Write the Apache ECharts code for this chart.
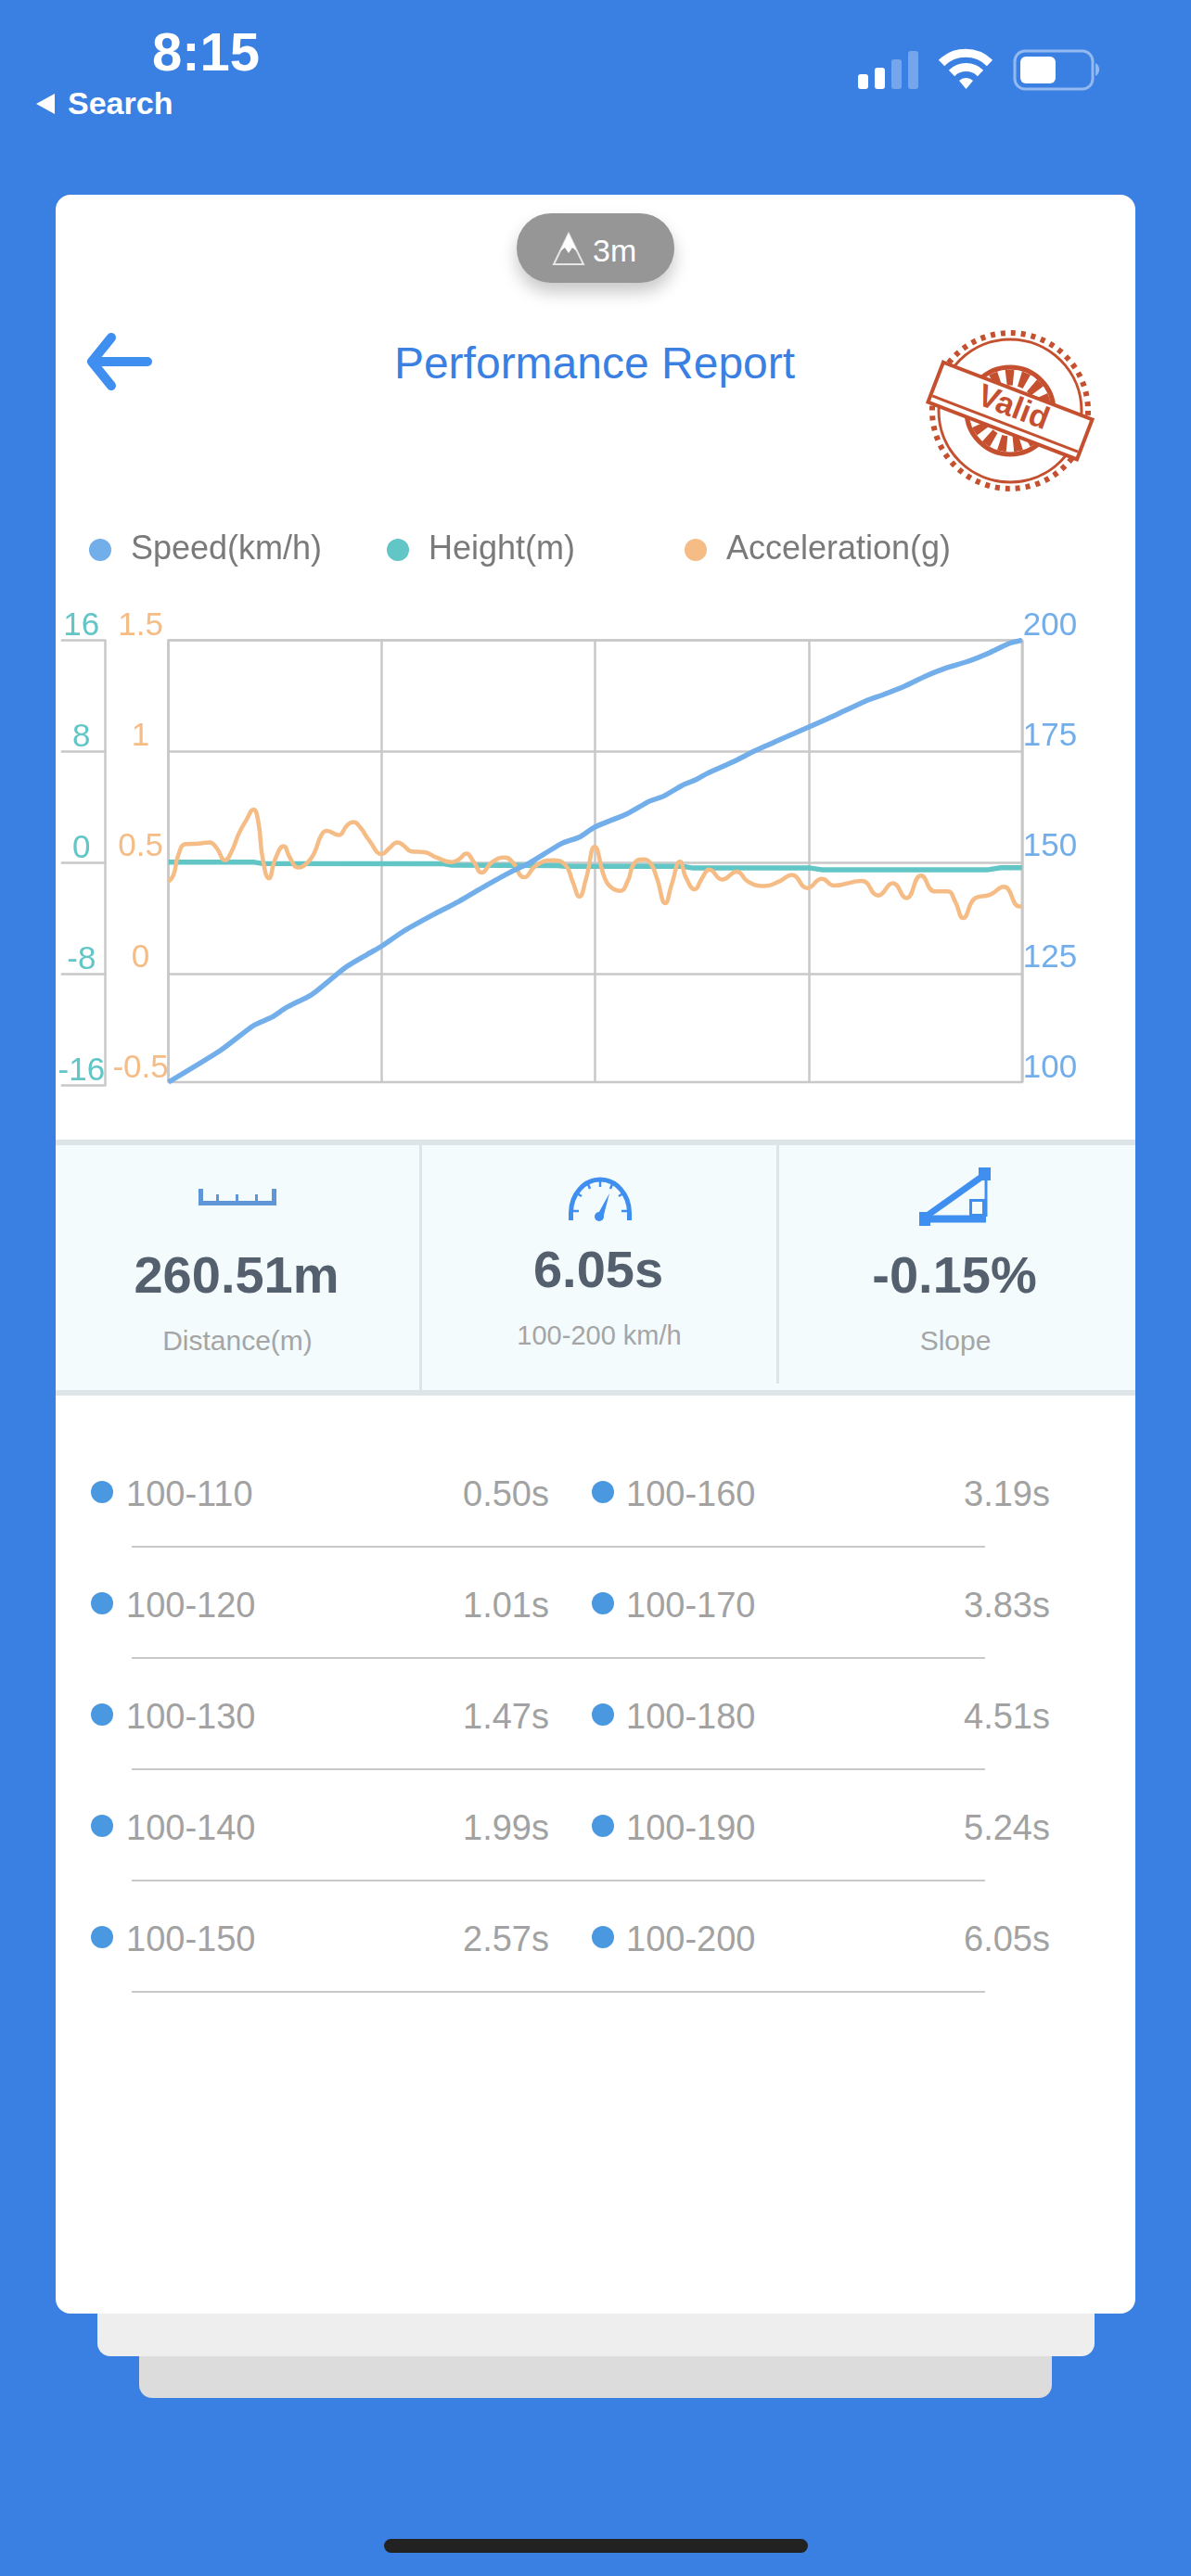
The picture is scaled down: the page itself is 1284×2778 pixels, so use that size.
<!DOCTYPE html>
<html lang="en">
<head>
<meta charset="UTF-8">
<title>Performance Report</title>
<style>
    html, body { margin: 0; padding: 0; }
    body {
        position: relative;
        width: 1284px;
        height: 2778px;
        overflow: hidden;
        background: #3a80e3;
        font-family: "Liberation Sans", sans-serif;
    }
    .abs { position: absolute; }
    .txt { position: absolute; white-space: nowrap; line-height: 1; }
    .center { transform: translateX(-50%); }
    #sheet3 { left: 150px; width: 984px; top: 2400px; height: 186px; background: #dcdcdc; border-radius: 14px; }
    #sheet2 { left: 105px; width: 1075px; top: 2400px; height: 141px; background: #eeeeee; border-radius: 14px; }
    #card { left: 60px; width: 1164px; top: 210px; height: 2285px; background: #fff; border-radius: 16px; }
    #pill { left: 557px; top: 230px; width: 170px; height: 75px; background: #969696; border-radius: 37px; box-shadow: 0 10px 18px rgba(0,0,0,0.22); }
    #stats { left: 60px; width: 1164px; top: 1229px; height: 276px; box-sizing: border-box; background: #f3fbfd; border-top: 6px solid #dde5e8; border-bottom: 6px solid #dde5e8; }
    .divider { top: 1235px; width: 3px; height: 264px; background: #dde5e8; }
    .big { font-size: 56px; font-weight: bold; color: #54606e; }
    .small { font-size: 30px; color: #a5a5a5; }
    .cell { font-size: 38px; color: #a2a2a2; }
    .dot { width: 24px; height: 24px; border-radius: 50%; background: #4a98e0; }
    .rule { left: 142px; width: 920px; height: 2px; background: #c9c9c9; }
    #chart { left: 0; top: 0; width: 1284px; height: 1228px; }
    #home { left: 414px; top: 2738px; width: 457px; height: 15px; background: #222; border-radius: 8px; }
</style>
</head>
<body>
<div class="abs" id="sheet3"></div>
<div class="abs" id="sheet2"></div>
<div class="abs" id="card"></div>

<!-- status bar -->
<div class="txt" style="left:164px;top:27px;font-size:58px;font-weight:bold;color:#fff;">8:15</div>
<div class="txt" style="left:73px;top:94px;font-size:34px;font-weight:bold;color:#fff;">Search</div>
<svg class="abs" style="left:0;top:0;" width="1284" height="130">
    <polygon points="39,112 59,101 59,123" fill="#fff"/>
    <rect x="925" y="80" width="11" height="16" rx="3" fill="#fff"/>
    <rect x="943" y="73" width="11" height="23" rx="3" fill="#fff"/>
    <rect x="961" y="64" width="11" height="32" rx="3" fill="#fff" opacity="0.3"/>
    <rect x="979" y="55" width="11" height="41" rx="3" fill="#fff" opacity="0.3"/>
    <path d="M1015,68 A37,37 0 0 1 1067,68" fill="none" stroke="#fff" stroke-width="9"/>
    <path d="M1026,79 A22,22 0 0 1 1057,79" fill="none" stroke="#fff" stroke-width="9"/>
    <path d="M1041.5,96 L1034,87 A11,11 0 0 1 1049,87 Z" fill="#fff"/>
    <rect x="1094" y="55" width="84" height="41" rx="11" fill="none" stroke="#fff" stroke-opacity="0.45" stroke-width="3"/>
    <rect x="1100" y="61" width="38" height="29" rx="6" fill="#fff"/>
    <path d="M1181,68 A8,8 0 0 1 1181,82 Z" fill="#fff" opacity="0.45"/>
</svg>

<!-- header -->
<div class="abs" id="pill"></div>
<svg class="abs" style="left:590px;top:248px;" width="46" height="42">
    <polygon points="7,37 23,4 39,37" fill="#969696" stroke="#e6e6e6" stroke-width="2"/>
    <polygon points="14,23 23,4 32,23 27,19 23,25 19,19" fill="#fff"/>
</svg>
<div class="txt" style="left:639px;top:253px;font-size:34px;color:#fff;">3m</div>
<svg class="abs" style="left:88px;top:354px;" width="84" height="72">
    <path d="M32,10 L11,36 L32,62 M12,36 L71,36" fill="none" stroke="#3f8ff0" stroke-width="10" stroke-linecap="round" stroke-linejoin="round"/>
</svg>
<div class="txt center" style="left:641px;top:368px;font-size:48px;color:#3a80e3;">Performance Report</div>
<svg class="abs" style="left:995px;top:350px;" width="190" height="190">
    <g transform="translate(94,93)" fill="none" stroke="#c5502f">
        <circle r="84" stroke-width="6" stroke-dasharray="5 6"/>
        <circle r="77" stroke-width="3"/>
        <circle r="47" stroke-width="5"/>
        <circle r="36" stroke-width="17" stroke-dasharray="8 7"/>
        <g transform="rotate(21)">
            <rect x="-86" y="-23" width="172" height="46" fill="#fff" stroke-width="4"/>
            <line x1="-84" y1="15" x2="84" y2="15" stroke-width="3"/>
            <text x="2" y="6" text-anchor="middle" font-size="34" fill="#c5502f" stroke="none" font-weight="bold" font-family="Liberation Sans">Valid</text>
        </g>
    </g>
</svg>

<!-- stats strip -->
<div class="abs" id="stats"></div>
<div class="abs divider" style="left:452px;"></div>
<div class="abs divider" style="left:837px;height:257px;"></div>
<svg class="abs" style="left:0;top:1250px;" width="1284" height="80">
    <g fill="#5f96d8">
        <rect x="214" y="45" width="84" height="5"/>
        <rect x="214" y="32" width="5" height="18"/>
        <rect x="293" y="32" width="5" height="18"/>
        <rect x="233" y="38" width="3" height="10"/>
        <rect x="254" y="38" width="3" height="10"/>
        <rect x="275" y="38" width="3" height="10"/>
    </g>
    <g fill="none" stroke="#3f8ff0">
        <path d="M615.5,66 L615.5,58 A31.5,36 0 0 1 678.5,58 L678.5,66" stroke-width="5"/>
        <path d="M618,56 h6 M670,56 h6 M622,37 l5,3 M672,37 l-5,3 M634,27 l2,5 M660,27 l-2,5 M647,24 v6" stroke-width="2.5"/>
        <path d="M998,62 L1064,15" stroke-width="7"/>
        <path d="M995,64.5 L1063,64.5" stroke-width="8"/>
        <path d="M1063,14 L1063,62" stroke-width="3"/>
        <rect x="1046.5" y="44.5" width="14" height="16" stroke-width="3"/>
    </g>
    <g fill="#3f8ff0">
        <polygon points="657,37 650,64 643,62"/>
        <circle cx="646" cy="62" r="5"/>
        <rect x="991" y="57" width="12" height="15"/>
        <rect x="1055" y="9" width="13" height="14"/>
    </g>
</svg>
<div class="txt big center" style="left:255px;top:1347px;">260.51m</div>
<div class="txt big center" style="left:645px;top:1341px;">6.05s</div>
<div class="txt big center" style="left:1029px;top:1347px;">-0.15%</div>
<div class="txt small center" style="left:256px;top:1431px;">Distance(m)</div>
<div class="txt small center" style="left:646px;top:1426px;font-size:29px;">100-200 km/h</div>
<div class="txt small center" style="left:1030px;top:1431px;">Slope</div>

<!-- split times -->
<div id="table"></div>

<div class="abs" id="home"></div>

<!-- chart sits on top of the card, transparent -->
<div class="abs" id="chart"></div>

<script src="https://cdn.jsdelivr.net/npm/echarts@6/dist/echarts.min.js"></script>
<script>
// split table
var splitNamesLeft = ['100-110', '100-120', '100-130', '100-140', '100-150'];
var splitTimesLeft = ['0.50s', '1.01s', '1.47s', '1.99s', '2.57s'];
var splitNamesRight = ['100-160', '100-170', '100-180', '100-190', '100-200'];
var splitTimesRight = ['3.19s', '3.83s', '4.51s', '5.24s', '6.05s'];

// time axis, seconds
var timeMax = 6.05;

// speed, km/h
var speedTime = [0, 0.369, 0.603, 0.733, 0.837, 1.019, 1.253, 1.409, 1.513, 1.669, 1.877, 2.059, 2.241, 2.423, 2.553, 2.787, 2.917, 3.021, 3.249, 3.405, 3.509, 3.639, 3.743, 3.821, 4.003, 4.159, 4.34, 4.528, 4.731, 4.939, 5.069, 5.225, 5.355, 5.511, 5.667, 5.823, 5.953, 6.05];
var speedValues = [100, 107.2, 112.8, 114.7, 116.9, 119.9, 125.9, 128.9, 130.8, 134.2, 137.9, 140.9, 144.3, 147.5, 149.5, 154, 155.5, 157.7, 160.7, 163.5, 164.7, 167.1, 168.5, 169.9, 172.5, 175, 177.6, 180.2, 183.1, 186.2, 187.7, 189.7, 191.7, 193.7, 195.2, 197.2, 199.2, 200];

// height, m
var heightTime = [0, 0.60, 0.66, 1.95, 2.01, 2.76, 2.81, 3.64, 3.72, 4.55, 4.63, 5.81, 5.90, 6.05];
var heightValues = [0.05, 0.05, -0.05, -0.07, -0.17, -0.21, -0.26, -0.26, -0.38, -0.38, -0.5, -0.5, -0.36, -0.36];

// acceleration, g
var accelTime = [0, 0.036, 0.070, 0.122, 0.213, 0.291, 0.343, 0.400, 0.447, 0.499, 0.551, 0.603, 0.637, 0.668, 0.712, 0.759, 0.816, 0.863, 0.920, 0.980, 1.032, 1.084, 1.123, 1.206, 1.266, 1.310, 1.357, 1.422, 1.513, 1.565, 1.622, 1.669, 1.721, 1.812, 1.903, 2.007, 2.059, 2.111, 2.163, 2.220, 2.293, 2.384, 2.436, 2.522, 2.605, 2.722, 2.813, 2.865, 2.912, 2.961, 3.021, 3.093, 3.145, 3.202, 3.254, 3.301, 3.366, 3.418, 3.462, 3.522, 3.566, 3.626, 3.670, 3.730, 3.782, 3.834, 3.925, 4.029, 4.107, 4.224, 4.328, 4.419, 4.528, 4.632, 4.718, 4.913, 5.030, 5.134, 5.230, 5.334, 5.433, 5.524, 5.576, 5.633, 5.719, 5.823, 5.921, 6.031, 6.05];
var accelValues = [0.408, 0.438, 0.528, 0.577, 0.580, 0.585, 0.558, 0.504, 0.543, 0.625, 0.685, 0.734, 0.677, 0.513, 0.423, 0.513, 0.568, 0.513, 0.471, 0.490, 0.535, 0.618, 0.637, 0.618, 0.662, 0.677, 0.655, 0.595, 0.532, 0.558, 0.585, 0.570, 0.544, 0.541, 0.516, 0.496, 0.508, 0.534, 0.498, 0.448, 0.495, 0.517, 0.498, 0.427, 0.480, 0.504, 0.483, 0.408, 0.340, 0.423, 0.565, 0.423, 0.378, 0.366, 0.408, 0.490, 0.508, 0.490, 0.423, 0.310, 0.393, 0.498, 0.423, 0.373, 0.423, 0.462, 0.417, 0.453, 0.408, 0.388, 0.408, 0.438, 0.378, 0.420, 0.390, 0.411, 0.345, 0.400, 0.333, 0.435, 0.363, 0.363, 0.318, 0.243, 0.333, 0.348, 0.384, 0.295, 0.295];

function pairs(xs, ys) {
    var out = [];
    for (var i = 0; i < xs.length; i++) {
        out.push([xs[i], ys[i]]);
    }
    return out;
}

// table rows
var tableHtml = '';
for (var i = 0; i < splitNamesLeft.length; i++) {
    var rowY = 1610 + i * 120;
    tableHtml += '<div class="abs dot" style="left:98px;top:' + (rowY - 13) + 'px;"></div>';
    tableHtml += '<div class="txt cell" style="left:136px;top:' + (rowY - 18) + 'px;">' + splitNamesLeft[i] + '</div>';
    tableHtml += '<div class="txt cell" style="right:692px;top:' + (rowY - 18) + 'px;">' + splitTimesLeft[i] + '</div>';
    tableHtml += '<div class="abs dot" style="left:638px;top:' + (rowY - 13) + 'px;"></div>';
    tableHtml += '<div class="txt cell" style="left:675px;top:' + (rowY - 18) + 'px;">' + splitNamesRight[i] + '</div>';
    tableHtml += '<div class="txt cell" style="right:152px;top:' + (rowY - 18) + 'px;">' + splitTimesRight[i] + '</div>';
    tableHtml += '<div class="abs rule" style="top:' + (rowY + 57) + 'px;"></div>';
}
document.getElementById('table').innerHTML = tableHtml;

var gridColor = '#c8c8c8';
var speedColor = '#72aeea';
var heightColor = '#62c5c6';
var accelColor = '#f5bc85';

function legendAt(name, left) {
    return {
        left: left,
        top: 575,
        padding: 0,
        data: [name],
        icon: 'circle',
        itemWidth: 24,
        itemHeight: 24,
        selectedMode: false,
        textStyle: { color: '#7a7a7a', fontSize: 36, fontFamily: 'Liberation Sans', padding: [16, 0, 0, 16] }
    };
}

var myChart = echarts.init(document.getElementById('chart'));

var option = {
    animation: false,
    textStyle: { fontFamily: 'Liberation Sans' },
    legend: [
        legendAt('Speed(km/h)', 96),
        legendAt('Height(m)', 417),
        legendAt('Acceleration(g)', 738)
    ],
    grid: [
        { left: 181.6, top: 690.4, width: 920.2, height: 476.6, show: true, borderColor: gridColor, borderWidth: 2.5, backgroundColor: 'transparent' },
        { left: 181.6, top: 690.4, width: 920.2, height: 480 }
    ],
    xAxis: [
        {
            gridIndex: 0, type: 'value', min: 0, max: timeMax, interval: timeMax / 4,
            axisLabel: { show: false }, axisTick: { show: false },
            axisLine: { show: false },
            splitLine: { show: true, lineStyle: { color: gridColor, width: 2.5 } }
        },
        { gridIndex: 1, type: 'value', min: 0, max: timeMax, show: false }
    ],
    yAxis: [
        {
            // speed, right
            gridIndex: 0, type: 'value', position: 'right', min: 100, max: 200, interval: 25,
            axisLine: { show: false }, axisTick: { show: false }, splitLine: { show: false },
            axisLabel: { color: speedColor, fontSize: 35, lineHeight: 30, margin: 1, align: 'left', verticalAlign: 'bottom' }
        },
        {
            // acceleration, inner left
            gridIndex: 0, type: 'value', position: 'left', min: -0.5, max: 1.5, interval: 0.5,
            axisLine: { show: false }, axisTick: { show: false }, splitLine: { show: false },
            axisLabel: { color: accelColor, fontSize: 35, lineHeight: 30, margin: 30, align: 'center', verticalAlign: 'bottom' }
        },
        {
            // height, outer left. Its split lines are the horizontal lines of the plot
            gridIndex: 1, type: 'value', position: 'left', offset: 68.8, min: -16, max: 16, interval: 8,
            axisLine: { show: true, onZero: false, lineStyle: { color: gridColor, width: 2.5 } },
            axisTick: { show: true, length: 47, lineStyle: { color: gridColor, width: 2.5 } },
            splitLine: { show: true, showMinLine: false, lineStyle: { color: gridColor, width: 2.5 } },
            axisLabel: { color: heightColor, fontSize: 35, lineHeight: 30, margin: 25, align: 'center', verticalAlign: 'bottom' }
        }
    ],
    series: [
        {
            name: 'Height(m)', type: 'line', xAxisIndex: 1, yAxisIndex: 2, showSymbol: false, clip: false,
            data: pairs(heightTime, heightValues),
            itemStyle: { color: heightColor }, lineStyle: { color: heightColor, width: 5.5 }
        },
        {
            name: 'Acceleration(g)', type: 'line', xAxisIndex: 0, yAxisIndex: 1, showSymbol: false, smooth: 0.5, clip: false,
            data: pairs(accelTime, accelValues),
            itemStyle: { color: accelColor }, lineStyle: { color: accelColor, width: 4.5 }
        },
        {
            name: 'Speed(km/h)', type: 'line', xAxisIndex: 0, yAxisIndex: 0, showSymbol: false, smooth: 0.2, clip: false,
            data: pairs(speedTime, speedValues),
            itemStyle: { color: speedColor }, lineStyle: { color: speedColor, width: 5.5 }
        }
    ]
};

myChart.setOption(option);
</script>
</body>
</html>
